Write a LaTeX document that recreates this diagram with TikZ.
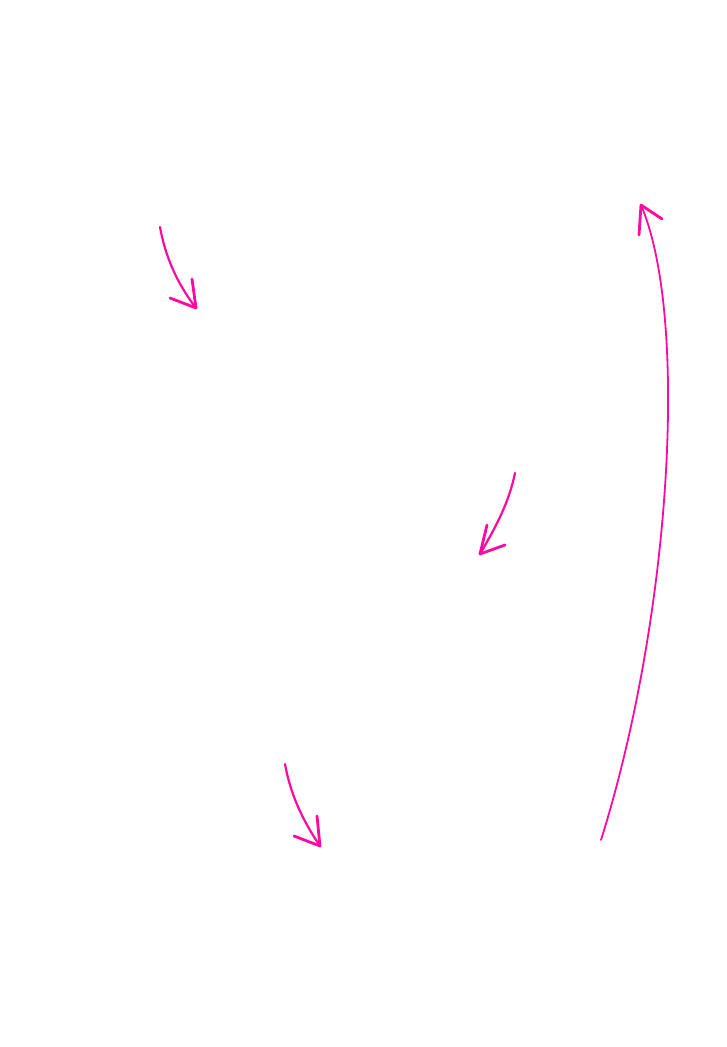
\documentclass[tikz,border=0pt]{standalone}
\begin{document}
\begin{tikzpicture}[x=1pt,y=-1pt,
  ink/.style={draw={rgb,255:red,255;green,10;blue,160},line width=2.2pt,line cap=round,line join=round},
  head/.style={ink,line width=2.8pt}]
\fill[white] (0,0) rectangle (727,1047);
\useasboundingbox (0,0) rectangle (727,1047);
% arrow 1
\coordinate (a1s) at (160,227); \coordinate (a1t) at (196,308);
\draw[ink] (a1s) .. controls (165,255) and (176,282) .. (a1t);
\draw[head] (170,298) -- (a1t) -- (192,279);
% arrow 2
\coordinate (a2s) at (515,473); \coordinate (a2t) at (480,554);
\draw[ink] (a2s) .. controls (509,502) and (497,525) .. (a2t);
\draw[head] (505,545) -- (a2t) -- (487,525);
% arrow 3
\coordinate (a3s) at (285,764); \coordinate (a3t) at (320,846);
\draw[ink] (a3s) .. controls (290,792) and (301,818) .. (a3t);
\draw[head] (294,836) -- (a3t) -- (317,816);
% arrow 4
\coordinate (a4s) at (601,840); \coordinate (a4t) at (641,205);
\draw[ink,line width=1.8pt] (a4s) .. controls (670,620) and (690,320) .. (a4t);
\draw[head] (662,219) -- (a4t) -- (639,235);
\end{tikzpicture}
\end{document}
